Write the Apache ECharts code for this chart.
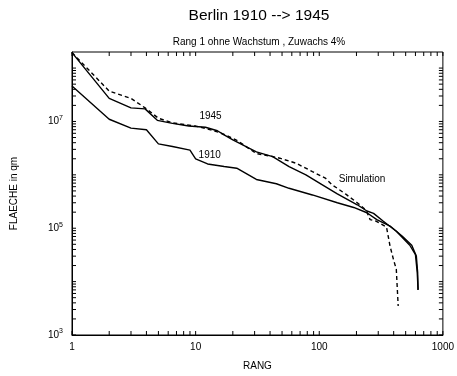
<!DOCTYPE html>
<html>
<head>
<meta charset="utf-8">
<script src="https://cdn.jsdelivr.net/npm/echarts@6/dist/echarts.min.js"></script>
<style>
  html, body { margin: 0; padding: 0; background: #fff; }
  #chart { width: 457px; height: 376px; }
</style>
</head>
<body>
<div id="chart"></div>
<script>
// ---- data ----
const rank1910 = [1, 2, 3, 4, 5, 6.5, 9, 10, 12.5, 17, 21.5, 31, 45, 57, 88, 140, 190, 243, 292, 374, 470, 560, 610, 625, 630];
const area1910 = [4.6e7, 1.1e7, 7.5e6, 7.0e6, 3.8e6, 3.4e6, 2.9e6, 2.0e6, 1.6e6, 1.43e6, 1.33e6, 8.2e5, 6.8e5, 5.6e5, 4.2e5, 3.0e5, 2.45e5, 1.95e5, 1.45e5, 1.1e5, 7.1e4, 4.8e4, 3.0e4, 1.5e4, 7e3];

const rank1945 = [1, 2, 3, 3.9, 4.9, 6.5, 8.8, 12, 15, 17, 20, 31, 42, 57, 78, 106, 140, 203, 243, 275, 330, 420, 540, 600, 620, 630];
const area1945 = [1.95e8, 2.7e7, 1.8e7, 1.72e7, 1.05e7, 9.2e6, 8.2e6, 7.8e6, 6.7e6, 5.6e6, 4.5e6, 2.7e6, 2.2e6, 1.43e6, 1.0e6, 6.5e5, 4.4e5, 2.75e5, 2.1e5, 1.9e5, 1.35e5, 8.8e4, 4.8e4, 3.2e4, 1.5e4, 7e3];

const rankSim = [1, 2, 3, 3.9, 5, 6.5, 10, 12, 15, 18, 22, 31, 42, 48, 65, 88, 112, 127, 140, 165, 203, 228, 243, 258, 290, 350, 374, 400, 420, 435];
const areaSim = [1.95e8, 3.7e7, 2.7e7, 1.8e7, 1.15e7, 9.4e6, 8.2e6, 7.4e6, 6.4e6, 5.4e6, 4.3e6, 2.5e6, 2.2e6, 2.05e6, 1.65e6, 1.15e6, 8.7e5, 6.5e5, 5.6e5, 4.3e5, 3.0e5, 2.4e5, 2.0e5, 1.45e5, 1.35e5, 1.05e5, 4.6e4, 2.5e4, 1.7e4, 3.5e3];

const xTickValues = [1, 2, 3, 4, 5, 6, 7, 8, 9, 10, 20, 30, 40, 50, 60, 70, 80, 90, 100, 200, 300, 400, 500, 600, 700, 800, 900, 1000];
const yTickValues = [1e3, 2e3, 3e3, 4e3, 5e3, 6e3, 7e3, 8e3, 9e3, 1e4, 2e4, 3e4, 4e4, 5e4, 6e4, 7e4, 8e4, 9e4, 1e5, 2e5, 3e5, 4e5, 5e5, 6e5, 7e5, 8e5, 9e5, 1e6, 2e6, 3e6, 4e6, 5e6, 6e6, 7e6, 8e6, 9e6, 1e7, 2e7, 3e7, 4e7, 5e7, 6e7, 7e7, 8e7, 9e7, 1e8];
const yLabelExponents = [3, 5, 7];

const X_MIN = 1, X_MAX = 1000, Y_MIN = 1e3, Y_MAX = 2e8;

const curveLabels = [
  { text: '1945', coord: [13.2, 1.26e7] },
  { text: '1910', coord: [13.0, 2.36e6] },
  { text: 'Simulation', coord: [222, 8.4e5] }
];

const titleText = 'Berlin 1910 --> 1945';
const subtitleText = 'Rang 1 ohne Wachstum , Zuwachs 4%';
const xName = 'RANG';
const yName = 'FLAECHE in qm';

// ---- chart ----
const zip = (xs, ys) => xs.map((x, i) => [x, ys[i]]);
const FONT = 'Liberation Sans, Arial, sans-serif';
const TL = 4;

const chart = echarts.init(document.getElementById('chart'), null, { renderer: 'canvas' });

const lineStyleSolid = { color: '#000', width: 1.4 };

chart.setOption({
  animation: false,
  backgroundColor: '#fff',
  textStyle: { fontFamily: FONT, color: '#000' },
  title: [
    { text: titleText, left: 259, top: 8, textAlign: 'center', padding: 0,
      textStyle: { fontFamily: FONT, fontSize: 15.5, fontWeight: 'normal', color: '#000' } },
    { text: subtitleText, left: 259, top: 37, textAlign: 'center', padding: 0,
      textStyle: { fontFamily: FONT, fontSize: 10, fontWeight: 'normal', color: '#000' } }
  ],
  grid: { left: 72, right: 10, top: 52, bottom: 40, show: true, borderColor: '#000', borderWidth: 1, backgroundColor: 'transparent' },
  xAxis: {
    type: 'log', logBase: 10, min: X_MIN, max: X_MAX,
    name: xName, nameLocation: 'middle', nameGap: 26,
    nameTextStyle: { fontFamily: FONT, fontSize: 10, color: '#000' },
    axisLine: { show: true, lineStyle: { color: '#000', width: 1 } },
    axisTick: { show: false },
    splitLine: { show: false },
    axisLabel: { fontFamily: FONT, fontSize: 10, color: '#000', margin: 7,
      formatter: v => String(Math.round(v)) }
  },
  yAxis: {
    type: 'log', logBase: 10, min: Y_MIN, max: Y_MAX,
    name: yName, nameLocation: 'middle', nameGap: 53,
    nameTextStyle: { fontFamily: FONT, fontSize: 10, color: '#000' },
    axisLine: { show: true, lineStyle: { color: '#000', width: 1 } },
    axisTick: { show: false },
    splitLine: { show: false },
    axisLabel: {
      margin: 9,
      formatter: v => {
        const e = Math.log10(v);
        const r = Math.round(e);
        if (Math.abs(e - r) > 1e-6 || yLabelExponents.indexOf(r) < 0) return '';
        return '{b|10}{s|' + r + '}';
      },
      rich: {
        b: { fontFamily: FONT, fontSize: 10, color: '#000', lineHeight: 14 },
        s: { fontFamily: FONT, fontSize: 7, color: '#000', verticalAlign: 'top', lineHeight: 14 }
      }
    }
  },
  series: [
    {
      type: 'custom', silent: true, clip: false, z: 5,
      data: xTickValues.map(v => [v, Y_MIN]),
      renderItem: (params, api) => {
        const v = api.value(0);
        const b = api.coord([v, Y_MIN]);
        const t = api.coord([v, Y_MAX]);
        const st = { stroke: '#000', lineWidth: 1 };
        return { type: 'group', children: [
          { type: 'line', shape: { x1: b[0], y1: b[1], x2: b[0], y2: b[1] - TL }, style: st },
          { type: 'line', shape: { x1: t[0], y1: t[1], x2: t[0], y2: t[1] + TL }, style: st }
        ]};
      }
    },
    {
      type: 'custom', silent: true, clip: false, z: 5,
      data: yTickValues.map(v => [X_MIN, v]),
      renderItem: (params, api) => {
        const v = api.value(1);
        const l = api.coord([X_MIN, v]);
        const r = api.coord([X_MAX, v]);
        const st = { stroke: '#000', lineWidth: 1 };
        return { type: 'group', children: [
          { type: 'line', shape: { x1: l[0], y1: l[1], x2: l[0] + TL, y2: l[1] }, style: st },
          { type: 'line', shape: { x1: r[0], y1: r[1], x2: r[0] - TL, y2: r[1] }, style: st }
        ]};
      }
    },
    {
      name: '1910', type: 'line', data: zip(rank1910, area1910),
      showSymbol: false, symbol: 'none', lineStyle: lineStyleSolid, z: 3,
      markPoint: {
        symbol: 'circle', symbolSize: 0, silent: true,
        label: { show: true, position: 'inside', fontFamily: FONT, fontSize: 10, color: '#000', formatter: p => p.name },
        data: curveLabels.map(c => ({ name: c.text, coord: c.coord }))
      }
    },
    {
      name: '1945', type: 'line', data: zip(rank1945, area1945),
      showSymbol: false, symbol: 'none', lineStyle: lineStyleSolid, z: 3
    },
    {
      name: 'Simulation', type: 'line', data: zip(rankSim, areaSim),
      showSymbol: false, symbol: 'none',
      lineStyle: { color: '#000', width: 1.4, type: [4, 3] }, z: 3
    }
  ]
});
</script>
</body>
</html>
